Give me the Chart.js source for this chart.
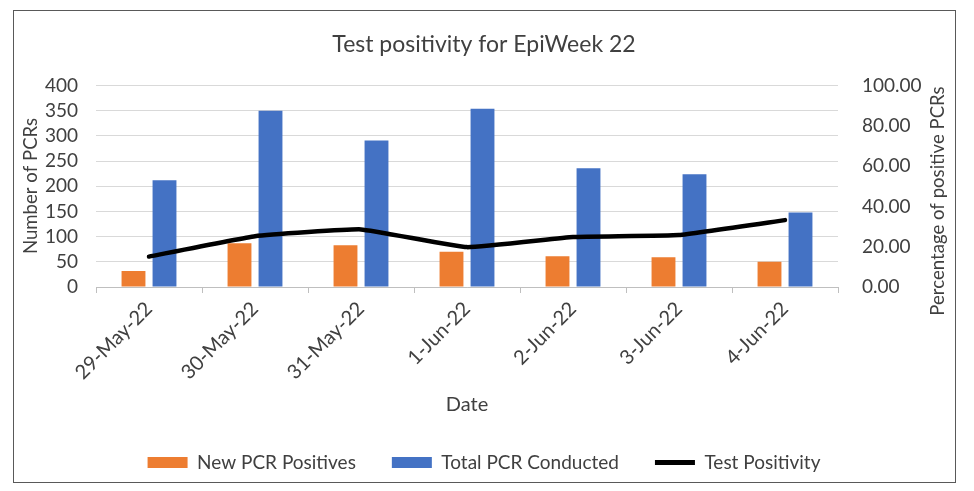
<!DOCTYPE html>
<html>
<head>
<meta charset="utf-8">
<script src="https://cdn.jsdelivr.net/npm/chart.js@4.4.0/dist/chart.umd.min.js"></script>
<style>
  body { margin: 0; background: #fff; }
</style>
</head>
<body>
<canvas id="chart" width="974" height="491"></canvas>
<script>
// values
var dates = ["29-May-22", "30-May-22", "31-May-22", "1-Jun-22", "2-Jun-22", "3-Jun-22", "4-Jun-22"];
var newPositives = [32, 87, 83, 70, 61, 59, 50];
var totalConducted = [212, 350, 291, 354, 236, 224, 148];
var positivity = [15.1, 25.2, 28.6, 19.8, 24.8, 25.8, 33.2];

var leftMax = 400, leftStep = 50;
var rightMax = 100, rightStep = 20;
var leftTitle = "Number of PCRs";
var rightTitle = "Percentage of positive PCRs";

var textColor = "#404040";
var fontName = "Lato";

// draw a vertical axis title reading upwards, sized to span len pixels
function drawSideTitle(ctx, text, x, y, len) {
    ctx.save();
    ctx.font = "20px " + fontName;
    var size = 20 * len / ctx.measureText(text).width;
    ctx.font = size.toFixed(1) + "px " + fontName;
    ctx.translate(x, y);
    ctx.rotate(-Math.PI / 2);
    ctx.fillStyle = textColor;
    ctx.textAlign = 'center';
    ctx.textBaseline = 'middle';
    ctx.fillText(text, 0, 0);
    ctx.restore();
}

// white background, chart area border and both axis titles
var framePlugin = {
    id: 'frame',
    beforeDraw: function(chart) {
        var ctx = chart.ctx;
        ctx.save();
        ctx.fillStyle = "#fff";
        ctx.fillRect(0, 0, chart.width, chart.height);
        ctx.restore();
    },
    afterDraw: function(chart) {
        var ctx = chart.ctx;
        ctx.save();
        ctx.strokeStyle = "#595959";
        ctx.lineWidth = 1;
        ctx.strokeRect(13.5, 10.5, 942, 472);
        ctx.restore();

        drawSideTitle(ctx, leftTitle, 31, 186, 136);
        drawSideTitle(ctx, rightTitle, 938, 201, 229);
    }
};

var ctx = document.getElementById("chart").getContext('2d');
var myChart = new Chart(ctx, {
    type: 'bar',
    data: {
        labels: dates,
        datasets: [{
            label: "New PCR Positives",
            data: newPositives,
            backgroundColor: "#ED7D31",
            borderWidth: 0,
            yAxisID: 'y',
            order: 1
        }, {
            label: "Total PCR Conducted",
            data: totalConducted,
            backgroundColor: "#4472C4",
            borderWidth: 0,
            yAxisID: 'y',
            order: 1
        }, {
            type: 'line',
            label: "Test Positivity",
            data: positivity,
            borderColor: "#000000",
            backgroundColor: "#000000",
            borderWidth: 4.5,
            borderCapStyle: 'round',
            pointRadius: 0,
            tension: 0.1,
            yAxisID: 'y1',
            order: 0
        }]
    },
    options: {
        responsive: false,
        animation: false,
        devicePixelRatio: 1,
        categoryPercentage: 0.585,
        barPercentage: 0.77,
        layout: { padding: { left: 14, right: 20, top: 0, bottom: 9 } },
        plugins: {
            title: {
                display: true,
                text: "Test positivity for EpiWeek 22",
                color: textColor,
                font: { family: fontName, size: 23, weight: 'normal' },
                padding: { top: 31, bottom: 27 }
            },
            legend: {
                position: 'bottom',
                labels: {
                    color: textColor,
                    font: { family: fontName, size: 19 },
                    usePointStyle: true,
                    pointStyleWidth: 40,
                    boxHeight: 11,
                    padding: 36,
                    sort: function(a, b) { return a.datasetIndex - b.datasetIndex; },
                    generateLabels: function(chart) {
                        var items = Chart.defaults.plugins.legend.labels.generateLabels(chart);
                        items.forEach(function(item) {
                            if (item.datasetIndex === 2) {
                                item.pointStyle = 'line';
                                item.lineWidth = 5;
                                item.strokeStyle = "#000000";
                            } else {
                                item.pointStyle = 'rect';
                                item.lineWidth = 0;
                            }
                        });
                        return items;
                    }
                }
            },
            tooltip: { enabled: false }
        },
        scales: {
            x: {
                offset: true,
                grid: { offset: true, drawOnChartArea: false, color: "#bfbfbf", tickLength: 6 },
                border: { color: "#bfbfbf" },
                ticks: {
                    color: textColor,
                    font: { family: fontName, size: 20 },
                    minRotation: 45,
                    maxRotation: 45,
                    autoSkip: false,
                    padding: 4
                },
                title: {
                    display: true,
                    text: "Date",
                    color: textColor,
                    font: { family: fontName, size: 20 },
                    padding: { top: 0, bottom: 0 }
                },
                afterFit: function(scale) { scale.height = 130; }
            },
            y: {
                position: 'left',
                min: 0,
                max: leftMax,
                grid: { color: "#d9d9d9", drawTicks: false },
                border: { display: false },
                ticks: {
                    stepSize: leftStep,
                    autoSkip: false,
                    color: textColor,
                    font: { family: fontName, size: 19 },
                    padding: 18
                },
                afterFit: function(scale) { scale.width = 82; }
            },
            y1: {
                position: 'right',
                min: 0,
                max: rightMax,
                grid: { display: false, drawTicks: false },
                border: { display: false },
                ticks: {
                    stepSize: rightStep,
                    autoSkip: false,
                    color: textColor,
                    font: { family: fontName, size: 19 },
                    padding: 24,
                    callback: function(v) { return v.toFixed(2); }
                },
                afterFit: function(scale) { scale.width = 116; }
            }
        }
    },
    plugins: [framePlugin]
});
</script>
</body>
</html>
